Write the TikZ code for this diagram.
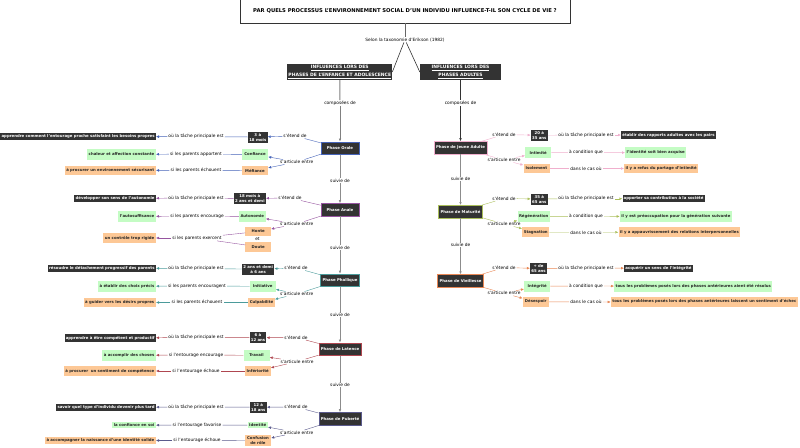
\documentclass[tikz,border=0pt]{standalone}
\usepackage{fontspec}
\setmainfont{DejaVu Sans}
\usetikzlibrary{arrows.meta,positioning}
\definecolor{boxdark}{RGB}{51,51,51}
\definecolor{boxgreen}{RGB}{196,252,196}
\definecolor{boxorange}{RGB}{253,200,150}
\definecolor{colorale}{RGB}{70,100,185}
\definecolor{colanale}{RGB}{150,85,160}
\definecolor{colphall}{RGB}{75,155,155}
\definecolor{collat}{RGB}{175,70,80}
\definecolor{colpub}{RGB}{90,90,140}
\definecolor{coljeune}{RGB}{240,175,205}
\definecolor{colmat}{RGB}{170,190,90}
\definecolor{colvieil}{RGB}{232,135,85}
\tikzset{
  lbl/.style={fill=white,inner xsep=1pt,inner ysep=0.6pt,text=black,font=\fontsize{4.35}{5}\selectfont},
  darkbox/.style={fill=boxdark,text=white,inner xsep=1.2pt,inner ysep=0pt,minimum height=7.4pt,align=center,font=\fontsize{3.86}{5}\selectfont\bfseries},
  greenbox/.style={fill=boxgreen,text=black!85,inner xsep=1.5pt,inner ysep=0pt,minimum height=11pt,align=center,font=\fontsize{3.86}{5}\selectfont\bfseries},
  orangebox/.style={fill=boxorange,text=black!85,inner xsep=1.5pt,inner ysep=0pt,minimum height=9.5pt,align=center,font=\fontsize{3.86}{5}\selectfont\bfseries},
  headbox/.style={fill=boxdark,text=white,inner xsep=1pt,inner ysep=0pt,minimum height=16pt,align=center,font=\fontsize{4.5}{8.6}\selectfont\bfseries},
  phasebox/.style={fill=boxdark,text=white,draw=#1,line width=0.5pt,minimum width=38pt,minimum height=12.5pt,inner xsep=2pt,inner ysep=0pt,font=\fontsize{3.86}{5}\selectfont\bfseries},
  tip/.style={-{Latex[length=3pt,width=2.6pt]}}
}
\begin{document}
\begin{tikzpicture}[x=1pt,y=-1pt]
\useasboundingbox (0,0) rectangle (800,447);
% Question
\node[draw=boxdark,line width=0.8pt,minimum width=330pt,minimum height=24pt,inner sep=0pt,font=\fontsize{5.25}{6}\selectfont\bfseries] (quest) at (405,11) {PAR QUELS PROCESSUS L'ENVIRONNEMENT SOCIAL D'UN INDIVIDU INFLUENCE-T-IL SON CYCLE DE VIE ?};
\node[lbl] (selon) at (405,39.7) {Selon la taxonomie d'Erikson (1982)};
\node[headbox] (hleft) at (339.8,72) {\underline{INFLUENCES LORS DES}\\\underline{PHASES DE L'ENFANCE ET ADOLESCENCE}};
\node[headbox,minimum width=81pt] (hright) at (460.5,72) {\underline{INFLUENCES LORS DES}\\\underline{PHASES ADULTES}};
\node[lbl] (compl) at (340,103) {composées de};
\node[lbl] (compr) at (460.5,103) {composées de};

% Phase Orale
\node[phasebox=colorale] (or) at (340,148) {Phase Orale};
\node[lbl] (orext) at (295,136) {s'étend de};
\node[darkbox,minimum height=11pt] (orage) at (257.8,137) {3 à\\18 mois};
\node[lbl] (ortl) at (196,136.7) {où la tâche principale est};
\node[darkbox,anchor=east] (ortask) at (156,136.5) {apprendre comment l'entourage proche satisfaint les besoins propres};
\node[lbl] (orart) at (296.7,162) {s'articule entre};
\node[greenbox,minimum width=26pt] (orc1) at (255,154.5) {Confiance};
\node[lbl] (orl1) at (196,154) {si les parents apportent};
\node[greenbox,anchor=east] (ort1) at (156,154.5) {chaleur et affection constante};
\node[orangebox,minimum width=26pt] (orc2) at (255,170.5) {Méfiance};
\node[lbl] (orl2) at (196,170.3) {si les parents échouent};
\node[orangebox,anchor=east] (ort2) at (156,170.5) {à procurer un environnement sécurisant};

\node[lbl] (sa1) at (340,180.5) {suivie de};

% Phase Anale
\node[phasebox=colanale] (an) at (340,209.7) {Phase Anale};
\node[lbl] (anext) at (290,198) {s'étend de};
\node[darkbox,minimum height=11pt] (anage) at (249.8,198.5) {18 mois à\\2 ans et demi};
\node[lbl] (antl) at (196,198) {où la tâche principale est};
\node[darkbox,anchor=east] (antask) at (156,198.5) {développer son sens de l'autonomie};
\node[lbl] (anart) at (296.7,224) {s'articule entre};
\node[greenbox,minimum width=26pt] (anc1) at (252.3,216.5) {Autonomie};
\node[lbl] (anl1) at (197,216) {si les parents encourage};
\node[greenbox,anchor=east] (ant1) at (156,216.5) {l'autosuffisance};
\node[orangebox,minimum width=25.5pt] (anc2) at (258.2,231.5) {Honte};
\node[lbl,fill=none] (anet) at (257.5,239) {et};
\node[orangebox,minimum width=25.5pt] (anc3) at (258.2,246.8) {Doute};
\node[lbl] (anl2) at (197,238) {si les parents exercent};
\node[orangebox,anchor=east] (ant2) at (156,238) {un contrôle trop rigide};

\node[lbl] (sa2) at (340,247.7) {suivie de};

% Phase Phallique
\node[phasebox=colphall] (ph) at (340,280.2) {Phase Phallique};
\node[lbl] (phext) at (296,268) {s'étend de};
\node[darkbox,minimum height=11pt] (phage) at (258.2,269.2) {2 ans et demi\\à 6 ans};
\node[lbl] (phtl) at (196,268.5) {où la tâche principale est};
\node[darkbox,anchor=east] (phtask) at (156,268.2) {résoudre le détachement progressif des parents};
\node[lbl] (phart) at (296.7,294) {s'articule entre};
\node[greenbox,minimum width=26pt] (phc1) at (262.7,286.3) {Initiative};
\node[lbl] (phl1) at (197,286) {si les parents encouragent};
\node[greenbox,anchor=east] (pht1) at (156,286.3) {à établir des choix précis};
\node[orangebox,minimum width=26pt] (phc2) at (261.5,302.5) {Culpabilité};
\node[lbl] (phl2) at (197,302.5) {si les parents échouent};
\node[orangebox,anchor=east] (pht2) at (156,302.5) {à guider vers les désirs propres};

\node[lbl] (sa3) at (340,315) {suivie de};

% Phase de Latence
\node[phasebox=collat] (la) at (340,349) {Phase de Latence};
\node[lbl] (laext) at (296,337.5) {s'étend de};
\node[darkbox,minimum height=11pt] (laage) at (258,337.7) {6 à\\12 ans};
\node[lbl] (latl) at (196,337.5) {où la tâche principale est};
\node[darkbox,anchor=east] (latask) at (156,338) {apprendre à être compétent et productif};
\node[lbl] (laart) at (297,361.5) {s'articule entre};
\node[greenbox,minimum width=26pt] (lac1) at (256.5,355.3) {Travail};
\node[lbl] (lal1) at (196,355) {si l'entourage encourage};
\node[greenbox,anchor=east] (lat1) at (156,355.3) {à accomplir des choses};
\node[orangebox,minimum width=26pt] (lac2) at (257.7,371) {Infériorité};
\node[lbl] (lal2) at (196,371) {si l'entourage échoue};
\node[orangebox,anchor=east] (lat2) at (156,371) {à procurer\ \ un sentiment de compétence};

\node[lbl] (sa4) at (340,385) {suivie de};

% Phase de Puberte
\node[phasebox=colpub] (pu) at (340,418.7) {Phase de Puberté};
\node[lbl] (puext) at (296,407) {s'étend de};
\node[darkbox,minimum height=11pt] (puage) at (258.3,407.2) {12 à\\18 ans};
\node[lbl] (putl) at (196,407) {où la tâche principale est};
\node[darkbox,anchor=east] (putask) at (156,407.3) {savoir quel type d'individu devenir plus tard};
\node[lbl] (puart) at (296.7,432.5) {s'articule entre};
\node[greenbox,minimum height=6.3pt] (puc1) at (257.7,425.2) {Identité};
\node[lbl] (pul1) at (197,425) {si l'entourage favorise};
\node[greenbox,anchor=east,minimum height=6.3pt] (put1) at (156,425.2) {la confiance en soi};
\node[orangebox,minimum width=26pt,minimum height=11pt] (puc2) at (258,440.8) {Confusion\\de rôle};
\node[lbl] (pul2) at (197,440.5) {si l'entourage échoue};
\node[orangebox,anchor=east,minimum height=7.4pt] (put2) at (156,440.5) {à accompagner la naissance d'une identité solide};

% Phase de Jeune Adulte
\node[phasebox=coljeune] (je) at (460.5,147.7) {Phase de Jeune Adulte};
\node[lbl] (jeext) at (504,134.5) {s'étend de};
\node[darkbox,minimum height=11pt] (jeage) at (539.3,135.3) {20 à\\35 ans};
\node[lbl] (jetl) at (586,135) {où la tâche principale est};
\node[darkbox,anchor=west] (jetask) at (621,135) {établir des rapports adultes avec les pairs};
\node[lbl] (jeart) at (504,160) {s'articule entre};
\node[greenbox,minimum width=26pt] (jec1) at (538.2,152.7) {Intimité};
\node[lbl] (jel1) at (586,152.5) {à condition que};
\node[greenbox,anchor=west] (jet1) at (625,152.7) {l'identité soit bien acquise};
\node[orangebox,minimum width=26pt] (jec2) at (536.5,168.5) {Isolement};
\node[lbl] (jel2) at (586,168.5) {dans le cas où};
\node[orangebox,anchor=west] (jet2) at (624,168.5) {il y a refus du partage d'intimité};

\node[lbl] (sb1) at (460.5,179) {suivie de};

% Phase de Maturite
\node[phasebox=colmat] (ma) at (460.5,211.5) {Phase de Maturité};
\node[lbl] (maext) at (504,198.5) {s'étend de};
\node[darkbox,minimum height=11pt] (maage) at (539.3,199) {35 à\\65 ans};
\node[lbl] (matl) at (586,198.7) {où la tâche principale est};
\node[darkbox,anchor=west] (matask) at (622.3,198.7) {apporter sa contribution à la société};
\node[lbl] (maart) at (504,224) {s'articule entre};
\node[greenbox,minimum width=26pt] (mac1) at (533.7,216.3) {Régénération};
\node[lbl] (mal1) at (586,216.5) {à condition que};
\node[greenbox,anchor=west] (mat1) at (619.7,216.3) {il y est préoccupation pour la génération suivante};
\node[orangebox,minimum width=26pt] (mac2) at (535.7,232.2) {Stagnation};
\node[lbl] (mal2) at (586,232.3) {dans le cas où};
\node[orangebox,anchor=west] (mat2) at (618.3,232.2) {il y a appauvrissement des relations interpersonnelles};

\node[lbl] (sb2) at (460.5,245) {suivie de};

% Phase de Vieillesse
\node[phasebox=colvieil] (vi) at (460.5,280.8) {Phase de Vieillesse};
\node[lbl] (viext) at (504,267.5) {s'étend de};
\node[darkbox,minimum height=11pt] (viage) at (538.5,268.5) {+ de\\65 ans};
\node[lbl] (vitl) at (586,268) {où la tâche principale est};
\node[darkbox,anchor=west] (vitask) at (624,268.3) {acquérir un sens de l'intégrité};
\node[lbl] (viart) at (504,293.3) {s'articule entre};
\node[greenbox,minimum width=26pt] (vic1) at (537.2,286.2) {Intégrité};
\node[lbl] (vil1) at (586,286) {à condition que};
\node[greenbox,anchor=west] (vit1) at (614,286.2) {tous les problèmes posés lors des phases antérieures aient été résolus};
\node[orangebox,minimum width=26pt] (vic2) at (535.8,301.8) {Désespoir};
\node[lbl] (vil2) at (586,302) {dans le cas où};
\node[orangebox,anchor=west] (vit2) at (610.7,301.8) {tous les problèmes posés lors des phases antérieures laissent un sentiment d'échec};

% Connectors
\draw[line width=1pt,black!60] (quest) -- (selon);
\draw[line width=0.6pt,boxdark] (selon) -- (hleft.east);
\draw[line width=0.6pt,boxdark] (selon) -- (hright.west);
\draw[line width=1pt,black!50] (hleft) -- (compl);
\draw[line width=1pt,black!50,tip] (compl) -- (or);
\draw[line width=1pt,boxdark] (hright) -- (compr);
\draw[line width=1pt,boxdark,tip] (compr) -- (je);
\foreach \a/\s/\b in {or/sa1/an,an/sa2/ph,ph/sa3/la,la/sa4/pu,je/sb1/ma,ma/sb2/vi}{
  \draw[line width=0.6pt,black!45] (\a) -- (\s);
  \draw[line width=0.6pt,black!45,tip] (\s) -- (\b);
}
\foreach \p/\c in {or/colorale,an/colanale,ph/colphall,la/collat,pu/colpub,je/coljeune,ma/colmat,vi/colvieil}{
  \begin{scope}[\c,line width=0.4pt]
    \draw (\p) -- (\p ext);
    \draw[tip] (\p ext) -- (\p age);
    \draw (\p age) -- (\p tl);
    \draw[tip] (\p tl) -- (\p task);
    \draw (\p) -- (\p art);
    \draw[tip] (\p art) -- (\p c1);
    \draw[tip] (\p art) -- (\p c2);
    \draw (\p c1) -- (\p l1);
    \draw[tip] (\p l1) -- (\p t1);
    \draw (\p c2) -- (\p l2);
    \draw[tip] (\p l2) -- (\p t2);
  \end{scope}
}
\draw[colanale,line width=0.4pt] (anc3) -- (anl2);
\end{tikzpicture}
\end{document}
